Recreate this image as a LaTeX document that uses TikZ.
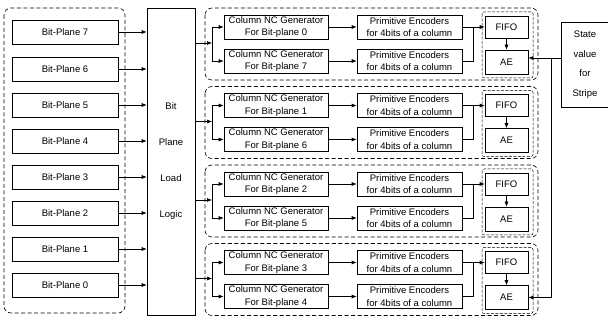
\documentclass[tikz,border=0pt]{standalone}
\usepackage{fontspec}
\setmainfont{Liberation Sans}
\usetikzlibrary{arrows.meta,calc}
\begin{document}
\begin{tikzpicture}[x=1pt,y=-1pt,
  box/.style={draw,line width=0.6pt,inner sep=0pt,align=center,font=\fontsize{9.5}{12.5}\selectfont},
  grp/.style={draw,line width=0.6pt,dash pattern=on 4pt off 2.5pt,rounded corners=7pt},
  igrp/.style={draw,line width=0.5pt,dash pattern=on 3pt off 1.5pt,rounded corners=2pt},
  arr/.style={line width=0.6pt,-{Latex[length=5pt,width=4pt]}},
  ln/.style={line width=0.6pt}]
\useasboundingbox (0,0) rectangle (608,320);
% left group
\draw[grp] (4,8) rectangle (125,313);
\foreach \n/\y in {7/32,6/69,5/105,4/141,3/177,2/213,1/249,0/285}{
  \node[box,minimum width=106pt,minimum height=24pt] (bp\n) at (65,\y) {Bit-Plane \n};
}
\node[box,minimum width=48pt,minimum height=307pt,font=\fontsize{9.5}{36}\selectfont] (LL) at (171,161.5) {Bit\\Plane\\Load\\Logic};
\foreach \n in {7,6,5,4,3,2,1,0}{
  \draw[arr] (bp\n.east) -- (LL.west |- bp\n.east);
}
% state box
\node[box,minimum width=48pt,minimum height=85pt,font=\fontsize{9.5}{19.5}\selectfont] (state) at (585,64.5) {State\\value\\for\\Stripe};
% groups
\foreach \g/\T/\a/\b in {1/8/0/7,2/86.5/1/6,3/165/2/5,4/243.5/3/4}{
  \draw[grp] (205,\T) rectangle (538,\T+72);
  \draw[igrp] (482,\T+4) rectangle (533,\T+70);
  \node[box,minimum width=104pt,minimum height=24pt] (ca\g) at (276,\T+19) {Column NC Generator\\For Bit-plane \a};
  \node[box,minimum width=104pt,minimum height=24pt] (cb\g) at (276,\T+53) {Column NC Generator\\For Bit-plane \b};
  \node[box,minimum width=105pt,minimum height=24pt] (pa\g) at (409.5,\T+19) {Primitive Encoders\\for 4bits of a column};
  \node[box,minimum width=105pt,minimum height=24pt] (pb\g) at (409.5,\T+53) {Primitive Encoders\\for 4bits of a column};
  \node[box,minimum width=43pt,minimum height=22pt] (fifo\g) at (506.5,\T+19) {FIFO};
  \node[box,minimum width=43pt,minimum height=24pt] (ae\g) at (506.5,\T+54) {AE};
  \coordinate (s\g) at (212,\T+35);
  \coordinate (m\g) at (473,\T+19);
  \draw[arr] (LL.east |- s\g) -- (s\g);
  \draw[arr] (s\g) |- (ca\g.west);
  \draw[arr] (s\g) |- (cb\g.west);
  \draw[arr] (ca\g.east) -- (pa\g.west);
  \draw[arr] (cb\g.east) -- (pb\g.west);
  \draw[arr] (pa\g.east) -- (fifo\g.west);
  \draw[ln] (pb\g.east) -| (m\g);
  \draw[arr] (fifo\g.south) -- (ae\g.north);
}
\coordinate (sj) at (551,58);
\draw[arr] (state.west |- sj) -- (ae1.east |- sj);
\draw[arr] (sj) |- (ae4.east);
\end{tikzpicture}
\end{document}
